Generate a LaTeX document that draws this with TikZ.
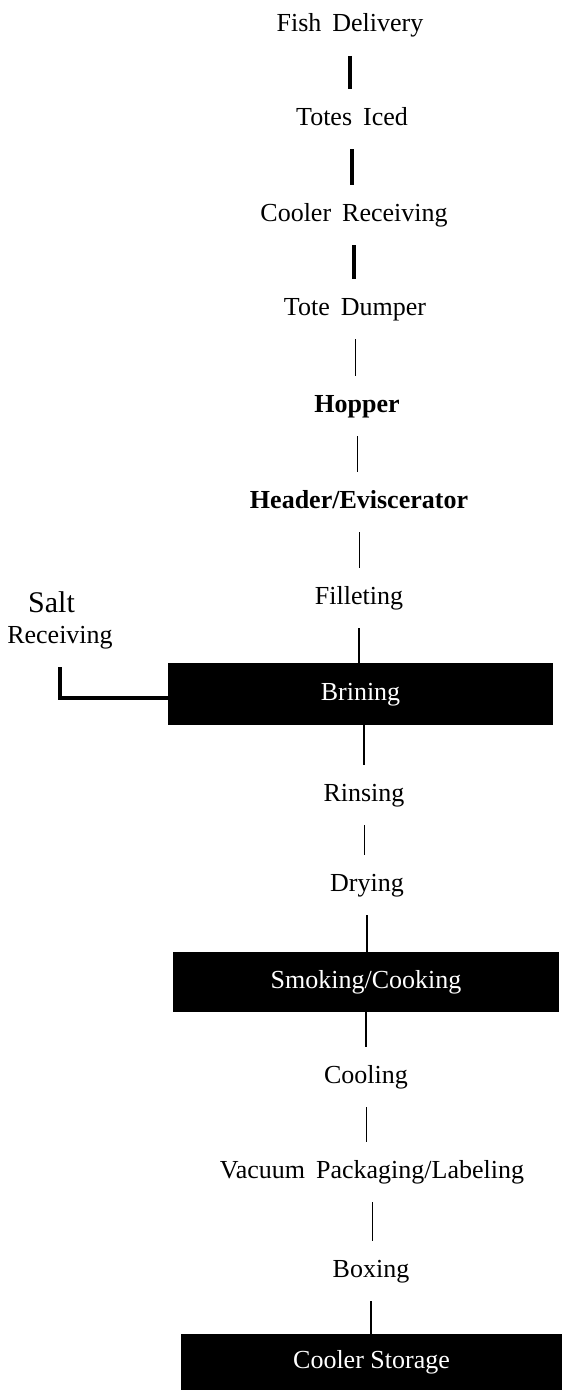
\documentclass[tikz,border=0pt]{standalone}
\usepackage{fontspec}
\setmainfont{Liberation Serif}
\newcommand\widespace{\spaceskip=11pt plus 2pt minus 1pt\relax}
\tikzset{
  stage/.style={font=\fontsize{26}{30}\selectfont\widespace,
    anchor=base, text height=18pt, text depth=6pt, inner xsep=2pt, inner ysep=18pt},
  tank/.style={fill=black, text=white, font=\fontsize{26}{30}\selectfont,
    text height=18pt, text depth=6pt, inner sep=0pt, minimum width=385pt, minimum height=62pt},
  fatline/.style={line width=3.2pt},
  medline/.style={line width=2.3pt},
  slimline/.style={line width=0.9pt}
}
\begin{document}
\begin{tikzpicture}[x=1pt,y=-1pt]
   \useasboundingbox (0,0) rectangle (562,1390);

   % main line
   \node[stage] (fish)    at (350,31.7) {Fish Delivery};
   \node[stage] (totes)   at (352,125)  {Totes Iced};
   \node[stage] (coolrcv) at (354,221)  {Cooler Receiving};
   \node[stage] (dumper)  at (355,315)  {Tote Dumper};
   \node[stage] (hopper)  at (357,412)  {\bfseries Hopper};
   \node[stage] (header)  at (359,508)  {\bfseries Header/Eviscerator};
   \node[stage] (fillet)  at (359,604)  {Filleting};
   \node[tank]  (brine)   at (360.5,694) {Brining};
   \node[stage] (rinse)   at (364,801)  {Rinsing};
   \node[stage] (dry)     at (367,891)  {Drying};
   \node[tank, minimum width=386pt, minimum height=60pt] (smoke) at (366,982) {Smoking/Cooking};
   \node[stage] (cool)    at (366,1083) {Cooling};
   \node[stage] (vacuum)  at (372,1178) {Vacuum Packaging/Labeling};
   \node[stage] (boxing)  at (371,1277) {Boxing};
   \node[tank, minimum width=381pt, minimum height=56pt] (storage) at (371.5,1362) {Cooler Storage};

   % salt side feed
   \node[font=\fontsize{30}{32}\selectfont, anchor=base, inner sep=0pt] (salt) at (51.5,612) {Salt};
   \node[stage] (rcv) at (60,643) {Receiving};

   \draw[fatline] (fish.south) -- (fish.south |- totes.north);
   \draw[fatline] (totes.south) -- (totes.south |- coolrcv.north);
   \draw[fatline] (coolrcv.south) -- (coolrcv.south |- dumper.north);
   \draw[slimline] (dumper.south) -- (dumper.south |- hopper.north);
   \draw[slimline] (hopper.south) -- (hopper.south |- header.north);
   \draw[slimline] (header.south) -- (header.south |- fillet.north);
   \draw[medline] (fillet.south) -- (fillet.south |- brine.north);
   \draw[medline] (rinse.north |- brine.south) -- (rinse.north);
   \draw[slimline] (rinse.south) -- (rinse.south |- dry.north);
   \draw[medline] (dry.south) -- (dry.south |- smoke.north);
   \draw[medline] (cool.north |- smoke.south) -- (cool.north);
   \draw[slimline] (cool.south) -- (cool.south |- vacuum.north);
   \draw[slimline] (vacuum.south) -- (vacuum.south |- boxing.north);
   \draw[medline] (boxing.south) -- (boxing.south |- storage.north);
%   \draw[medline] (salt.south) -- (rcv.north);
   \draw[fatline] (rcv.south) |- ([yshift=-4pt]brine.west);
\end{tikzpicture}
\end{document}
